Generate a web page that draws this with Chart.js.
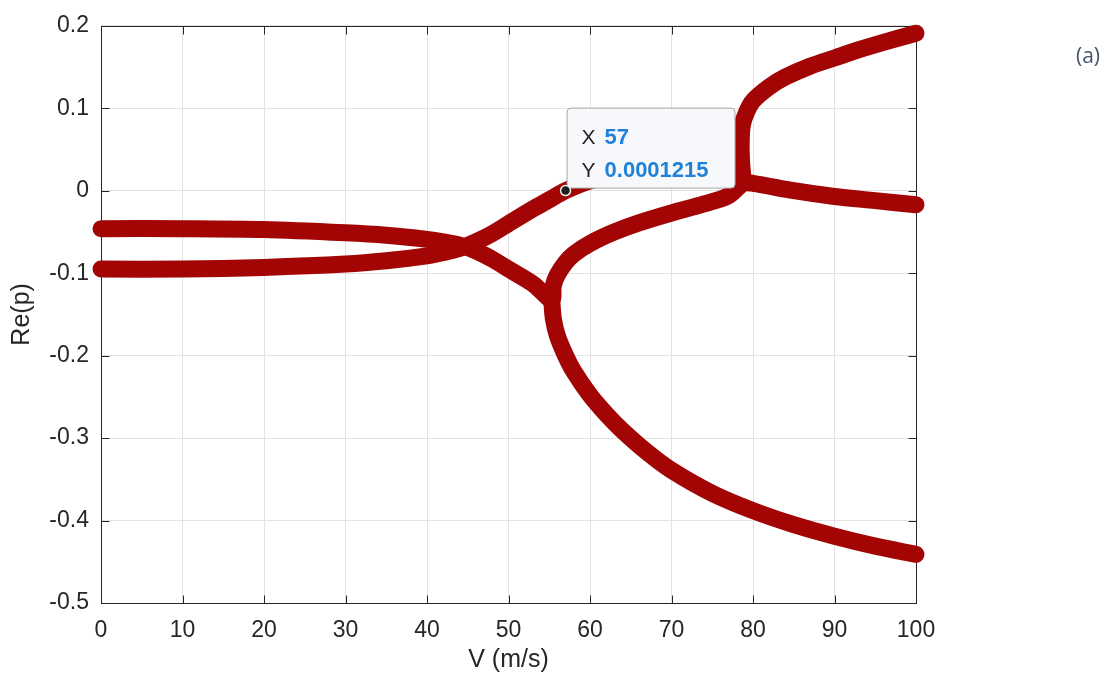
<!DOCTYPE html>
<html>
<head>
<meta charset="utf-8">
<script src="https://cdn.jsdelivr.net/npm/chart.js@4.4.1/dist/chart.umd.min.js"></script>
<style>
  html, body { margin: 0; padding: 0; background: #fff; }
  #wrap { width: 1120px; height: 675px; }
</style>
</head>
<body>
<div id="wrap"><canvas id="chart" width="1120" height="675"></canvas></div>
<script>
// axes
const vTicks = [0, 10, 20, 30, 40, 50, 60, 70, 80, 90, 100];
const reTicks = [-0.5, -0.4, -0.3, -0.2, -0.1, 0, 0.1, 0.2];

// branch 1: starts at -0.046, crosses at ~45, splits at 55.3, rises to the junction at ~79
const b1V  = [0, 10, 20, 30, 35, 40, 42, 44, 46, 48, 50, 53, 55.3,
              55.5, 56, 57, 58, 60, 63, 66, 70, 74, 77, 78.8, 80, 85, 90, 95, 100];
const b1Re = [-0.046, -0.046, -0.047, -0.051, -0.054, -0.059, -0.062, -0.066, -0.073, -0.083, -0.095, -0.113, -0.132,
              -0.115, -0.102, -0.087, -0.077, -0.064, -0.05, -0.039, -0.027, -0.016, -0.006, 0.009, 0.009, 0.0, -0.007, -0.012, -0.017];

// branch 2: starts at -0.095, rises through the data tip point
const b2V  = [0, 10, 20, 30, 35, 40, 42, 44, 46, 48, 50, 53, 55, 57, 60, 65, 70, 75, 78];
const b2Re = [-0.095, -0.095, -0.093, -0.089, -0.085, -0.079, -0.075, -0.07, -0.062, -0.052, -0.04, -0.022, -0.011, 0.0001215, 0.012, 0.025, 0.035, 0.045, 0.05];

// branch 3: upper branch after the junction
const b3V  = [78.8, 78.6, 78.55, 78.7, 79.2, 80, 82, 84, 87, 90, 93, 96, 100];
const b3Re = [0.012, 0.035, 0.06, 0.08, 0.095, 0.109, 0.126, 0.138, 0.151, 0.161, 0.171, 0.18, 0.191];

// branch 4: lower branch after the split at 55.3
const b4V  = [55.3, 55.5, 56, 57, 58, 60, 62, 64, 67, 70, 75, 80, 85, 90, 95, 100];
const b4Re = [-0.132, -0.155, -0.176, -0.2, -0.219, -0.248, -0.271, -0.291, -0.317, -0.339, -0.367, -0.388, -0.405, -0.419, -0.431, -0.441];

// data tip
const tipV = 57;
const tipRe = 0.0001215;
const tipNames = ['X', 'Y'];
const tipValues = ['57', '0.0001215'];
const panelLabel = '(a)';

const curveColor = '#a30404';
const tickFont = { family: '"Liberation Sans", Arial, sans-serif', size: 23 };
const titleFont = { family: '"Liberation Sans", Arial, sans-serif', size: 25 };

function toPoints(xs, ys) {
    return xs.map(function(x, i) { return { x: x, y: ys[i] }; });
}

function branch(xs, ys) {
    return {
        data: toPoints(xs, ys),
        showLine: true,
        clip: false,
        borderColor: curveColor,
        backgroundColor: curveColor,
        borderWidth: 17,
        borderCapStyle: 'round',
        borderJoinStyle: 'round',
        tension: 0.3,
        pointRadius: 0,
        fill: false
    };
}

// frame and inward ticks, like a matlab axes box
const framePlugin = {
    id: 'frame',
    beforeDatasetsDraw(chart) {
        const { ctx, chartArea: a, scales } = chart;
        const L = Math.round(a.left) + 0.5, R = Math.round(a.right) + 0.5;
        const T = Math.round(a.top) + 0.5, B = Math.round(a.bottom) + 0.5;
        ctx.save();
        ctx.strokeStyle = '#262626';
        ctx.lineWidth = 1;
        ctx.strokeRect(L, T, R - L, B - T);
        ctx.beginPath();
        vTicks.forEach(function(v) {
            const x = Math.round(scales.x.getPixelForValue(v)) + 0.5;
            ctx.moveTo(x, B); ctx.lineTo(x, B - 8);
            ctx.moveTo(x, T); ctx.lineTo(x, T + 8);
        });
        reTicks.forEach(function(r) {
            const y = Math.round(scales.y.getPixelForValue(r)) + 0.5;
            ctx.moveTo(L, y); ctx.lineTo(L + 8, y);
            ctx.moveTo(R, y); ctx.lineTo(R - 8, y);
        });
        ctx.stroke();
        ctx.restore();
    }
};

// data tip box at (57, 0.0001215)
const tipPlugin = {
    id: 'datatip',
    afterDatasetsDraw(chart) {
        const { ctx, scales } = chart;
        const px = scales.x.getPixelForValue(tipV);
        const py = scales.y.getPixelForValue(tipRe);
        const bx = px + 1, by = py - 83, bw = 168, bh = 80;
        ctx.save();
        ctx.beginPath();
        ctx.roundRect(bx + 0.5, by + 0.5, bw, bh, 4);
        ctx.fillStyle = '#f7f8fb';
        ctx.fill();
        ctx.strokeStyle = '#a6a6a6';
        ctx.lineWidth = 1;
        ctx.stroke();

        ctx.textBaseline = 'alphabetic';
        tipNames.forEach(function(name, i) {
            const y = by + 36 + i * 33;
            ctx.font = '21px "Liberation Sans", Arial, sans-serif';
            ctx.fillStyle = '#262626';
            ctx.fillText(name, bx + 15, y);
            ctx.font = 'bold 22px "Liberation Sans", Arial, sans-serif';
            ctx.fillStyle = '#1f82d8';
            ctx.fillText(tipValues[i], bx + 38, y);
        });

        ctx.beginPath();
        ctx.arc(px, py, 5, 0, Math.PI * 2);
        ctx.fillStyle = '#1c1c1c';
        ctx.fill();
        ctx.strokeStyle = '#f0f0f0';
        ctx.lineWidth = 1.5;
        ctx.stroke();
        ctx.restore();
    },
    afterDraw(chart) {
        const ctx = chart.ctx;
        ctx.save();
        ctx.font = '21px "Open Sans", sans-serif';
        ctx.fillStyle = '#44546a';
        ctx.textAlign = 'center';
        ctx.textBaseline = 'middle';
        ctx.fillText(panelLabel, 1088, 57);
        ctx.restore();
    }
};

const chart = new Chart(document.getElementById('chart'), {
    type: 'scatter',
    data: {
        datasets: [
            branch(b1V, b1Re),
            branch(b2V, b2Re),
            branch(b3V, b3Re),
            branch(b4V, b4Re)
        ]
    },
    options: {
        responsive: false,
        devicePixelRatio: 1,
        animation: false,
        layout: { padding: { left: 0, top: 22, right: 204, bottom: 0 } },
        plugins: {
            legend: { display: false },
            tooltip: { enabled: false }
        },
        scales: {
            x: {
                type: 'linear',
                min: 0,
                max: 100,
                afterBuildTicks: function(scale) {
                    scale.ticks = vTicks.map(function(v) { return { value: v }; });
                },
                afterFit: function(scale) { scale.height = 72; },
                ticks: {
                    font: tickFont,
                    color: '#262626',
                    padding: 14,
                    maxRotation: 0,
                    callback: function(v) { return String(v); }
                },
                grid: { color: '#e2e2e2', lineWidth: 1, drawTicks: false },
                border: { display: false },
                title: {
                    display: true,
                    text: 'V (m/s)',
                    font: titleFont,
                    color: '#262626',
                    padding: { top: 0, bottom: 0 }
                }
            },
            y: {
                type: 'linear',
                min: -0.5,
                max: 0.2,
                afterBuildTicks: function(scale) {
                    scale.ticks = reTicks.map(function(v) { return { value: v }; });
                },
                afterFit: function(scale) { scale.width = 101; },
                ticks: {
                    font: tickFont,
                    color: '#262626',
                    padding: 12,
                    callback: function(v) { return v === 0 ? '0' : v.toFixed(1); }
                },
                grid: { color: '#e2e2e2', lineWidth: 1, drawTicks: false },
                border: { display: false },
                title: {
                    display: true,
                    text: 'Re(p)',
                    font: titleFont,
                    color: '#262626',
                    padding: { top: 7, bottom: 0 }
                }
            }
        }
    },
    plugins: [framePlugin, tipPlugin]
});
</script>
</body>
</html>
